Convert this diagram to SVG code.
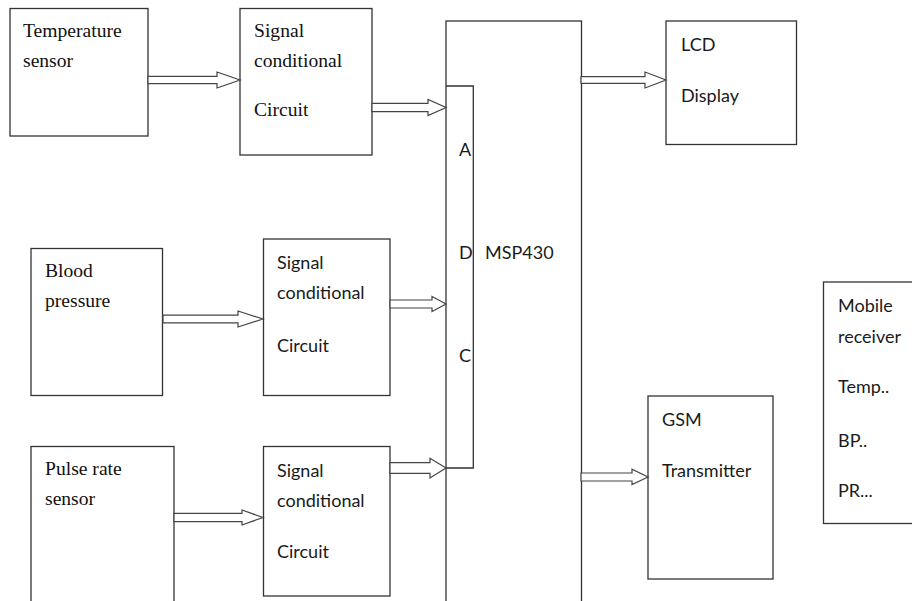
<svg xmlns="http://www.w3.org/2000/svg" width="912" height="601" viewBox="0 0 912 601">
<style>
.box{fill:#fff;stroke:#333;stroke-width:1.3}
.arr{fill:#fff;stroke:#444;stroke-width:1.2;stroke-linejoin:miter}
.serif{font-family:"Liberation Serif","Times New Roman",serif;font-size:19.6px;fill:#111}
.sans{font-family:Lato,"Liberation Sans",Arial,sans-serif;font-size:18px;fill:#1a1a1a}
</style>
<rect width="912" height="601" fill="#fff"/>
<g id="temp-sensor">
<rect class="box" x="10" y="8.5" width="138" height="127.5"/>
<text class="serif" x="23" y="37">Temperature</text>
<text class="serif" x="23" y="67">sensor</text>
</g>
<g id="signal1">
<rect class="box" x="240" y="8.5" width="132" height="146.5"/>
<text class="serif" x="254" y="37">Signal</text>
<text class="serif" x="254" y="67">conditional</text>
<text class="serif" x="254" y="116">Circuit</text>
</g>
<g id="bp-sensor">
<rect class="box" x="31" y="248.5" width="131.5" height="147"/>
<text class="serif" x="45" y="277">Blood</text>
<text class="serif" x="45" y="307">pressure</text>
</g>
<g id="signal2">
<rect class="box" x="263.5" y="239" width="126.5" height="156.5"/>
<text class="sans" x="277" y="269">Signal</text>
<text class="sans" x="277" y="299">conditional</text>
<text class="sans" x="277" y="352">Circuit</text>
</g>
<g id="pr-sensor">
<rect class="box" x="31" y="446.5" width="143" height="170"/>
<text class="serif" x="45" y="475">Pulse rate</text>
<text class="serif" x="45" y="505">sensor</text>
</g>
<g id="signal3">
<rect class="box" x="263.5" y="446.5" width="126.5" height="149.5"/>
<text class="sans" x="277" y="477">Signal</text>
<text class="sans" x="277" y="507">conditional</text>
<text class="sans" x="277" y="558">Circuit</text>
</g>
<g id="msp430">
<rect class="box" x="446" y="21" width="135.5" height="600"/>
<path d="M446,86 H473.3 V468 H446" fill="none" stroke="#333" stroke-width="1.3"/>
<text class="sans" x="459" y="156">A</text>
<text class="sans" x="459" y="259">D</text>
<text class="sans" x="459" y="362">C</text>
<text class="sans" x="485" y="259">MSP430</text>
</g>
<g id="lcd">
<rect class="box" x="666" y="21" width="130.5" height="123.5"/>
<text class="sans" x="681" y="51">LCD</text>
<text class="sans" x="681" y="102">Display</text>
</g>
<g id="gsm">
<rect class="box" x="648" y="396" width="125" height="183"/>
<text class="sans" x="662" y="426">GSM</text>
<text class="sans" x="662" y="477">Transmitter</text>
</g>
<g id="mobile">
<rect class="box" x="823.5" y="282" width="100" height="241.5"/>
<text class="sans" x="838" y="312">Mobile</text>
<text class="sans" x="838" y="343">receiver</text>
<text class="sans" x="838" y="393">Temp..</text>
<text class="sans" x="838" y="447">BP..</text>
<text class="sans" x="838" y="497">PR...</text>
</g>
<g id="connectors">
<polygon class="arr" points="148,76.3 217,76.3 217,72 240,80 217,88 217,83.7 148,83.7"/>
<polygon class="arr" points="372,103.3 428,103.3 428,99.5 446,107.5 428,115.5 428,111.7 372,111.7"/>
<polygon class="arr" points="581,76.7 645,76.7 645,72 666,80 645,88 645,83.3 581,83.3"/>
<polygon class="arr" points="163,315.2 238,315.2 238,311 263,319 238,327 238,322.8 163,322.8"/>
<polygon class="arr" points="390,300 432,300 432,296.5 446,304 432,311.5 432,308 390,308"/>
<polygon class="arr" points="174,513.3 242,513.3 242,510 263,517.5 242,525 242,521.7 174,521.7"/>
<polygon class="arr" points="390,462.7 430,462.7 430,458.3 446,468 430,478 430,473.3 390,473.3"/>
<polygon class="arr" points="581,473 632,473 632,469.3 648,477 632,484.5 632,481 581,481"/>
</g>
</svg>
